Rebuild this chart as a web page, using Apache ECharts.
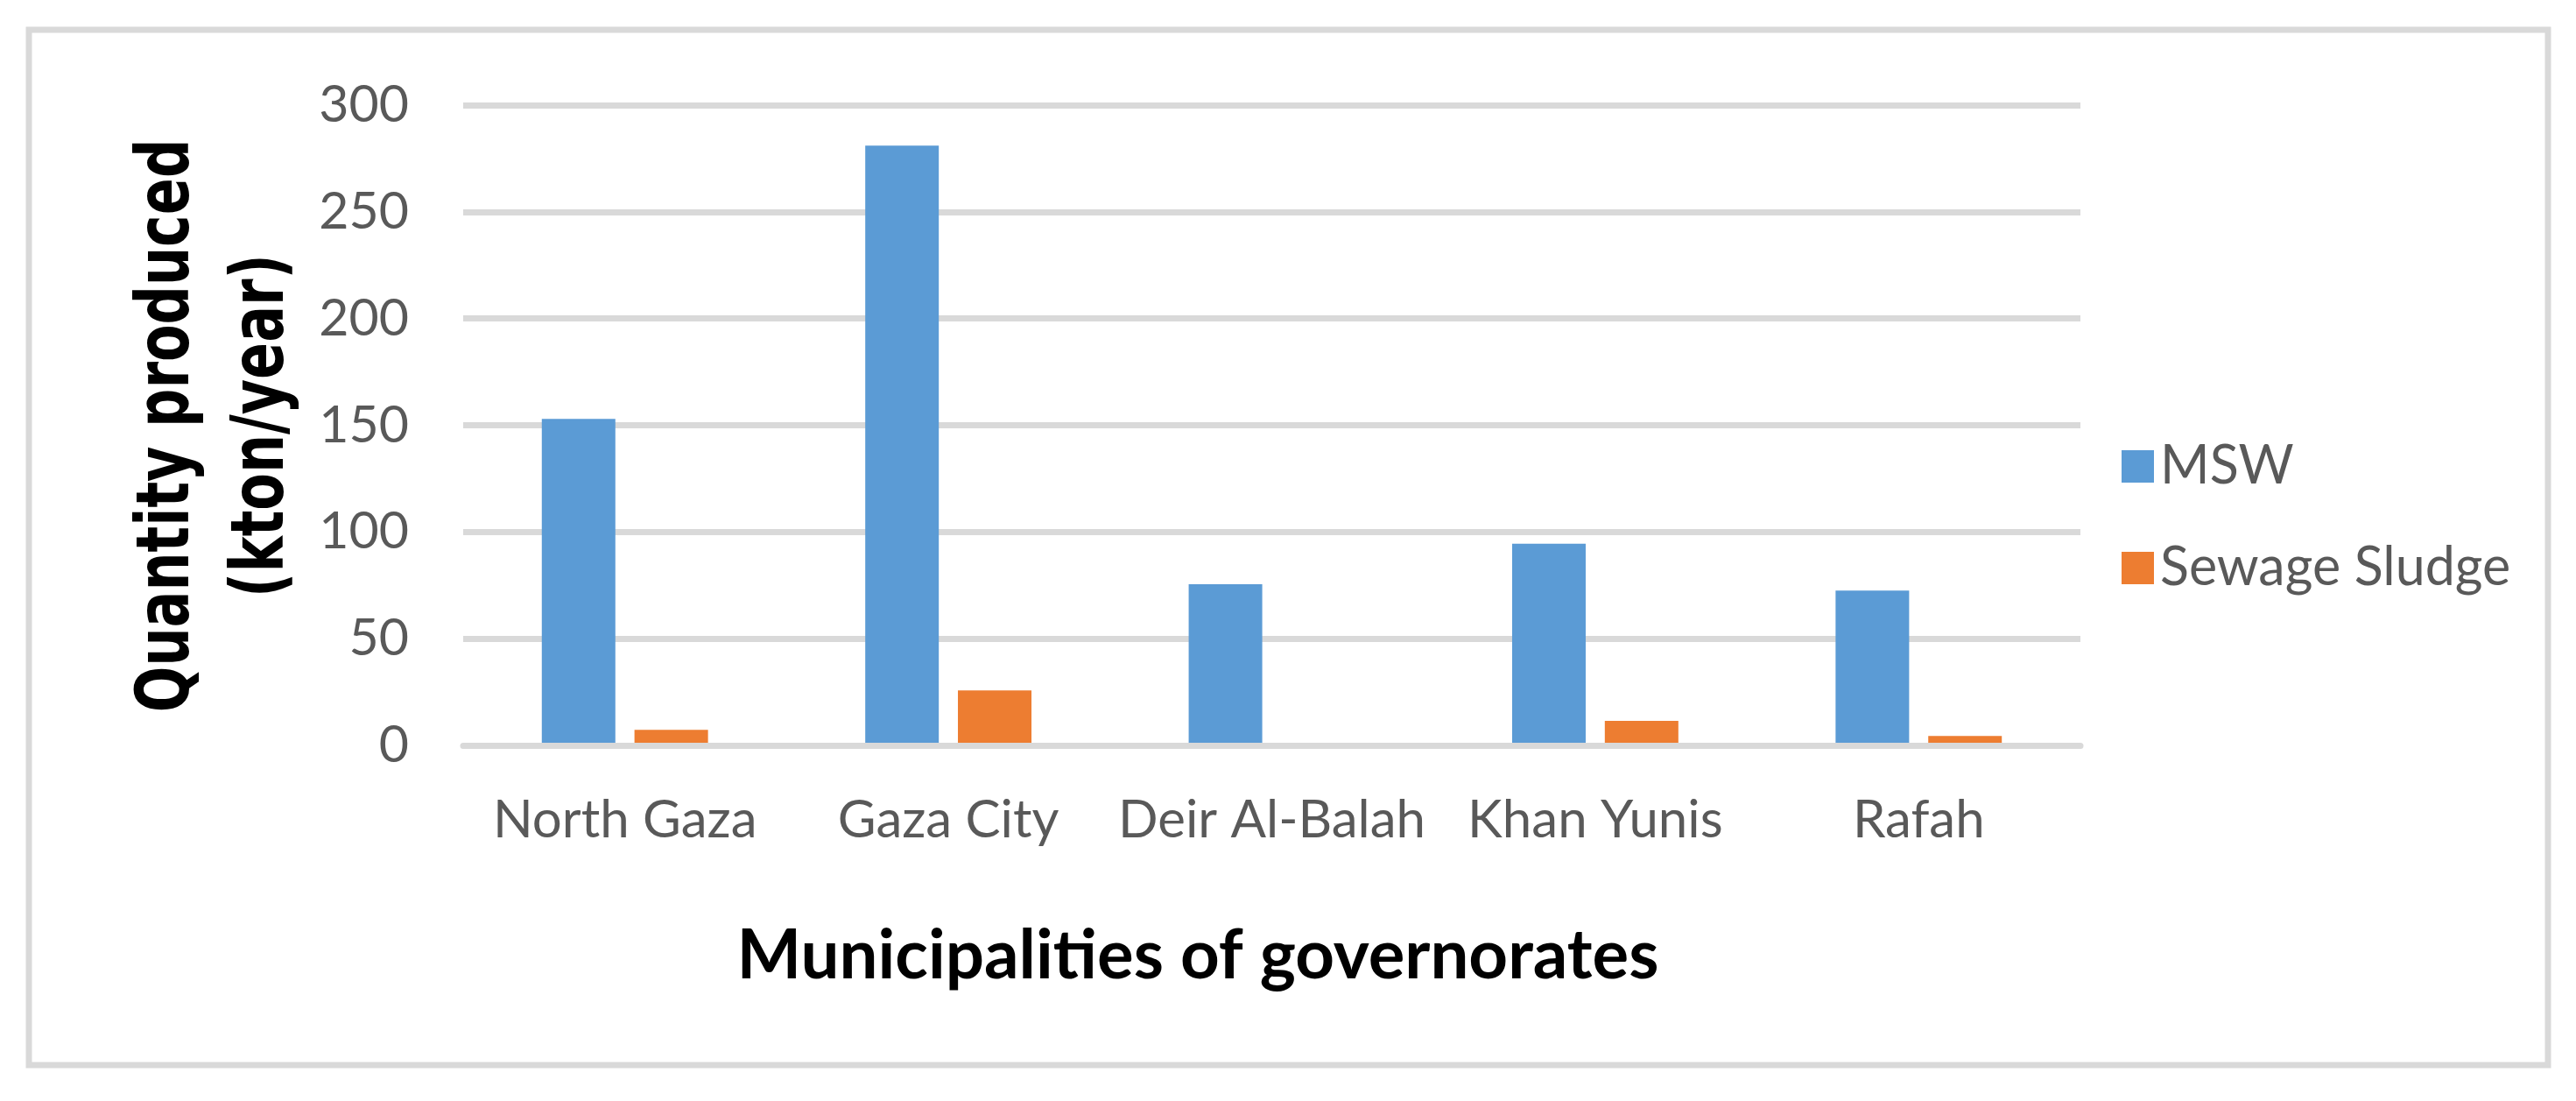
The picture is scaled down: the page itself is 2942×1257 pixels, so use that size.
<!DOCTYPE html>
<html>
<head>
<meta charset="utf-8">
<script src="https://cdn.jsdelivr.net/npm/echarts@6/dist/echarts.min.js"></script>
<style>
  html, body { margin: 0; padding: 0; background: #fff; }
  #chart { width: 2942px; height: 1257px; }
</style>
</head>
<body>
<div id="chart"></div>
<script>
// governorates
var categories = ['North Gaza', 'Gaza City', 'Deir Al-Balah', 'Khan Yunis', 'Rafah'];
// kton/year
var mswValues = [153, 281, 75.5, 94.5, 72.5];
var sludgeValues = [7.3, 25.8, 0, 11.5, 4.4];
var seriesNames = ['MSW', 'Sewage Sludge'];
var yTicks = { min: 0, max: 300, interval: 50 };

var textColor = '#595959';
var gridColor = '#d9d9d9';
var labelFont = 'Lato';

var chart = echarts.init(document.getElementById('chart'));

var option = {
    backgroundColor: '#ffffff',
    animation: false,
    grid: {
        left: 529,
        right: 566,
        top: 120,
        bottom: 406,
        containLabel: false
    },
    legend: {
        orient: 'vertical',
        left: 2418,
        top: 497,
        itemWidth: 37,
        itemHeight: 37,
        itemGap: 55,
        icon: 'rect',
        data: seriesNames,
        textStyle: {
            color: textColor,
            fontFamily: labelFont,
            fontSize: 61,
            padding: [0, 0, 0, 2]
        }
    },
    xAxis: {
        type: 'category',
        data: categories,
        z: 5,
        axisLine: { show: true, lineStyle: { color: gridColor, width: 7 } },
        axisTick: { show: false },
        axisLabel: {
            interval: 0,
            color: textColor,
            fontFamily: labelFont,
            fontSize: 60,
            margin: 56
        }
    },
    yAxis: {
        type: 'value',
        min: yTicks.min,
        max: yTicks.max,
        interval: yTicks.interval,
        axisLine: { show: false },
        axisTick: { show: false },
        splitLine: { lineStyle: { color: gridColor, width: 7 } },
        axisLabel: {
            color: textColor,
            fontFamily: labelFont,
            fontSize: 59,
            margin: 62
        }
    },
    series: [
        {
            name: seriesNames[0],
            type: 'bar',
            data: mswValues,
            barWidth: 84,
            barGap: '26%',
            itemStyle: { color: '#5b9bd5' }
        },
        {
            name: seriesNames[1],
            type: 'bar',
            data: sludgeValues,
            barWidth: 84,
            barGap: '26%',
            itemStyle: { color: '#ed7d31' }
        }
    ],
    graphic: [
        {
            type: 'rect',
            shape: { x: 33, y: 34, width: 2877, height: 1182 },
            style: { fill: 'none', stroke: gridColor, lineWidth: 7 },
            silent: true
        },
        {
            // y axis title (glyphs are stretched in the original)
            type: 'text',
            x: 247,
            y: 486,
            rotation: Math.PI / 2,
            scaleY: 1.36,
            style: {
                text: 'Quantity produced\n(kton/year)',
                fill: '#000000',
                font: 'bold 62px "DejaVu Sans"',
                lineHeight: 79,
                textAlign: 'center',
                textVerticalAlign: 'middle'
            }
        },
        {
            // x axis title
            type: 'text',
            x: 1368,
            y: 1092,
            style: {
                text: 'Municipalities of governorates',
                fill: '#000000',
                font: 'bold 78px Lato',
                textAlign: 'center',
                textVerticalAlign: 'middle'
            }
        }
    ]
};

chart.setOption(option);
</script>
</body>
</html>
